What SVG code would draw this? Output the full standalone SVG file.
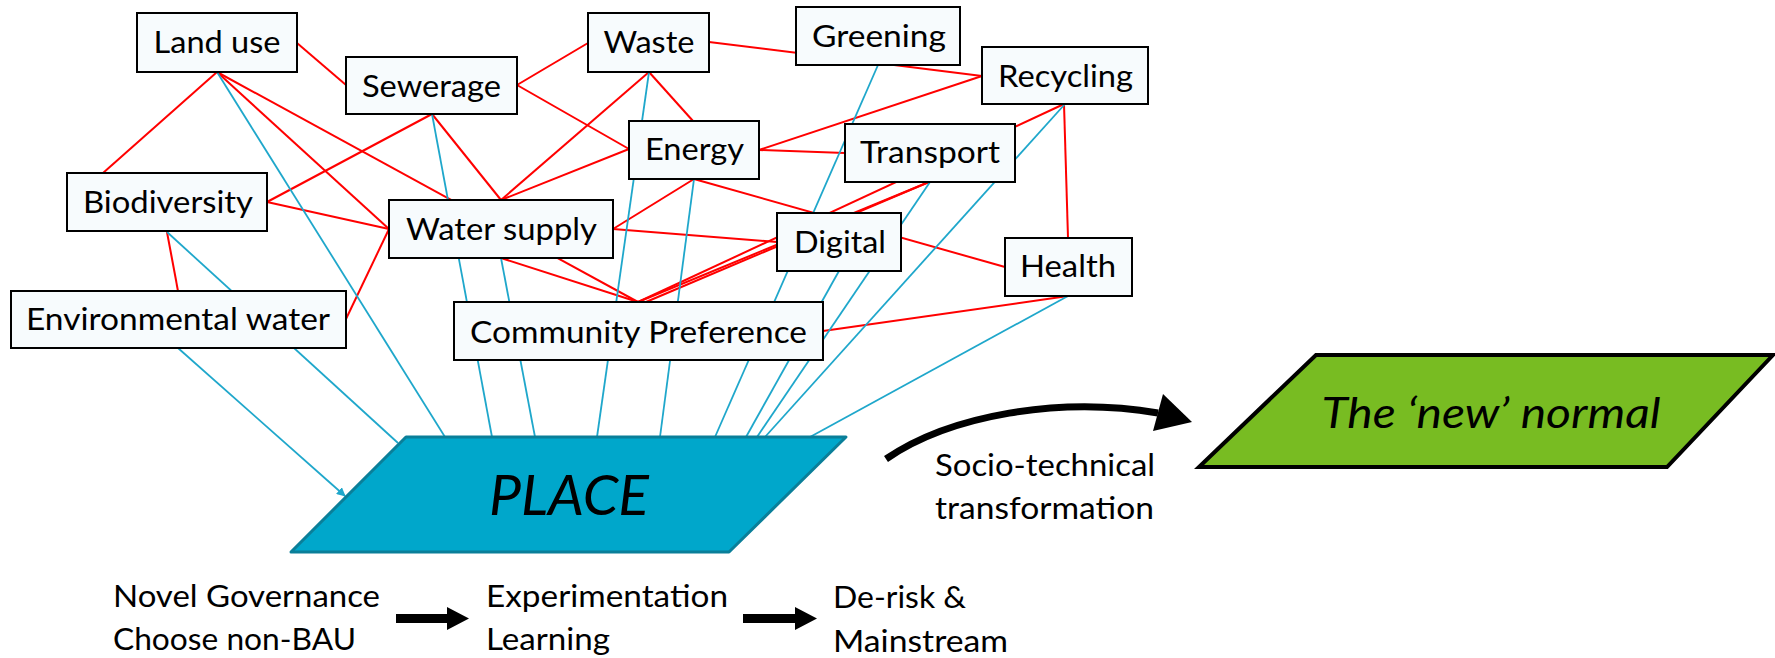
<svg xmlns="http://www.w3.org/2000/svg" width="1775" height="658" viewBox="0 0 1775 658">
<defs>
<style>
.r{stroke:#ff0000;stroke-width:2;fill:none}
.b{stroke:#1fa7cb;stroke-width:1.8;fill:none}
.box{fill:#f7fbfd;stroke:#000;stroke-width:2}
.t{font-family:Lato,"Liberation Sans",sans-serif;font-size:30px;fill:#000}
.c{text-anchor:middle}
</style>
<marker id="ah" viewBox="0 0 10 10" refX="9" refY="5" markerWidth="5" markerHeight="5" orient="auto" markerUnits="strokeWidth">
<path d="M0,0 L10,5 L0,10 z" fill="#1fa7cb"/>
</marker>
</defs>
<rect width="1775" height="658" fill="#fff"/>
<g id="connectors">
<line class="r" x1="297" y1="43" x2="346" y2="85"/>
<line class="r" x1="217" y1="72" x2="103" y2="173"/>
<line class="r" x1="217" y1="72" x2="638" y2="302"/>
<line class="r" x1="217" y1="72" x2="389" y2="229"/>
<line class="r" x1="432" y1="114" x2="267" y2="202"/>
<line class="r" x1="432" y1="114" x2="501" y2="200"/>
<line class="r" x1="517" y1="85" x2="588" y2="43"/>
<line class="r" x1="517" y1="85" x2="629" y2="149"/>
<line class="r" x1="267" y1="202" x2="389" y2="229"/>
<line class="r" x1="346" y1="319" x2="389" y2="229"/>
<line class="r" x1="167" y1="232" x2="178" y2="291"/>
<line class="r" x1="501" y1="200" x2="649" y2="72"/>
<line class="r" x1="501" y1="200" x2="629" y2="149"/>
<line class="r" x1="649" y1="72" x2="693" y2="121"/>
<line class="r" x1="709" y1="42" x2="982" y2="76"/>
<line class="r" x1="759" y1="150" x2="982" y2="76"/>
<line class="r" x1="759" y1="150" x2="845" y2="153"/>
<line class="r" x1="694" y1="179" x2="613" y2="229"/>
<line class="r" x1="694" y1="179" x2="1005" y2="267"/>
<line class="r" x1="613" y1="229" x2="777" y2="242"/>
<line class="r" x1="501" y1="258" x2="638" y2="302"/>
<line class="r" x1="1064" y1="104" x2="638" y2="302"/>
<line class="r" x1="929" y1="182" x2="638" y2="302"/>
<line class="r" x1="929" y1="182" x2="646" y2="302"/>
<line class="r" x1="1064" y1="104" x2="1068" y2="238"/>
<line class="r" x1="1068" y1="296" x2="823" y2="331"/>
<line class="b" x1="178" y1="348" x2="345" y2="496" marker-end="url(#ah)"/>
<line class="b" x1="167" y1="232" x2="398" y2="443"/>
<line class="b" x1="217" y1="72" x2="445" y2="437"/>
<line class="b" x1="432" y1="114" x2="492" y2="437"/>
<line class="b" x1="501" y1="258" x2="535" y2="437"/>
<line class="b" x1="649" y1="72" x2="597" y2="437"/>
<line class="b" x1="694" y1="179" x2="660" y2="437"/>
<line class="b" x1="878" y1="65" x2="715" y2="437"/>
<line class="b" x1="839" y1="271" x2="746" y2="437"/>
<line class="b" x1="930" y1="182" x2="757" y2="437"/>
<line class="b" x1="1065" y1="104" x2="765" y2="437"/>
<line class="b" x1="1068" y1="296" x2="810" y2="437"/>
</g>
<g id="landuse"><rect class="box" x="137" y="13" width="160" height="59"/><text class="t c" x="217" y="53" textLength="127" lengthAdjust="spacingAndGlyphs">Land use</text></g>
<g id="sewerage"><rect class="box" x="346" y="57" width="171" height="57"/><text class="t c" x="431.5" y="97" textLength="139" lengthAdjust="spacingAndGlyphs">Sewerage</text></g>
<g id="waste"><rect class="box" x="588" y="13" width="121" height="59"/><text class="t c" x="649" y="53" textLength="91" lengthAdjust="spacingAndGlyphs">Waste</text></g>
<g id="greening"><rect class="box" x="796" y="7" width="164" height="58"/><text class="t c" x="879" y="47" textLength="134" lengthAdjust="spacingAndGlyphs">Greening</text></g>
<g id="recycling"><rect class="box" x="982" y="47" width="166" height="57"/><text class="t c" x="1065.5" y="87" textLength="135" lengthAdjust="spacingAndGlyphs">Recycling</text></g>
<g id="energy"><rect class="box" x="629" y="121" width="130" height="58"/><text class="t c" x="694.5" y="160" textLength="99" lengthAdjust="spacingAndGlyphs">Energy</text></g>
<g id="transport"><rect class="box" x="845" y="124" width="170" height="58"/><text class="t c" x="930" y="163" textLength="140" lengthAdjust="spacingAndGlyphs">Transport</text></g>
<g id="biodiversity"><rect class="box" x="67" y="173" width="200" height="58"/><text class="t c" x="168" y="213" textLength="170" lengthAdjust="spacingAndGlyphs">Biodiversity</text></g>
<g id="watersupply"><rect class="box" x="389" y="200" width="224" height="58"/><text class="t c" x="501.5" y="240" textLength="191" lengthAdjust="spacingAndGlyphs">Water supply</text></g>
<g id="digital"><rect class="box" x="777" y="213" width="124" height="58"/><text class="t c" x="840" y="253" textLength="92" lengthAdjust="spacingAndGlyphs">Digital</text></g>
<g id="health"><rect class="box" x="1005" y="238" width="127" height="58"/><text class="t c" x="1068" y="277" textLength="96" lengthAdjust="spacingAndGlyphs">Health</text></g>
<g id="envwater"><rect class="box" x="11" y="291" width="335" height="57"/><text class="t c" x="178" y="330" textLength="304" lengthAdjust="spacingAndGlyphs">Environmental water</text></g>
<g id="community"><rect class="box" x="454" y="302" width="369" height="58"/><text class="t c" x="638.5" y="343" textLength="337" lengthAdjust="spacingAndGlyphs">Community Preference</text></g>
<g id="place">
<polygon points="406,437 846,437 729,552 291,552" fill="#00a7cb" stroke="#0a7f99" stroke-width="3" stroke-linejoin="round"/>
<text class="t c" x="569" y="515" font-style="italic" font-size="56" textLength="160" lengthAdjust="spacingAndGlyphs" style="font-size:56px">PLACE</text>
</g>
<g id="newnormal">
<polygon points="1316,355 1773,355 1667,467 1199,467" fill="#78bc22" stroke="#000" stroke-width="4"/>
<text class="t c" x="1491" y="428" font-style="italic" textLength="339" lengthAdjust="spacingAndGlyphs" style="font-size:42px">The ‘new’ normal</text>
</g>
<g id="transformation">
<path d="M886,459 C950,415 1060,396 1158,413" fill="none" stroke="#000" stroke-width="7"/>
<polygon points="1192,422 1163,394 1153,431" fill="#000"/>
<text class="t" x="935" y="476" textLength="220" lengthAdjust="spacingAndGlyphs">Socio-technical</text>
<text class="t" x="935" y="519" textLength="219" lengthAdjust="spacingAndGlyphs">transformation</text>
</g>
<g id="steps">
<text class="t" x="113" y="607" textLength="267" lengthAdjust="spacingAndGlyphs">Novel Governance</text>
<text class="t" x="113" y="650" textLength="243" lengthAdjust="spacingAndGlyphs">Choose non-BAU</text>
<polygon points="396,614 447,614 447,607 469,618.5 447,630 447,623 396,623" fill="#000"/>
<text class="t" x="486" y="607" textLength="242" lengthAdjust="spacingAndGlyphs">Experimentation</text>
<text class="t" x="486" y="650" textLength="124" lengthAdjust="spacingAndGlyphs">Learning</text>
<polygon points="743,614 795,614 795,607 817,618.5 795,630 795,623 743,623" fill="#000"/>
<text class="t" x="833" y="608" textLength="133" lengthAdjust="spacingAndGlyphs">De-risk &amp;</text>
<text class="t" x="833" y="652" textLength="175" lengthAdjust="spacingAndGlyphs">Mainstream</text>
</g>
</svg>
